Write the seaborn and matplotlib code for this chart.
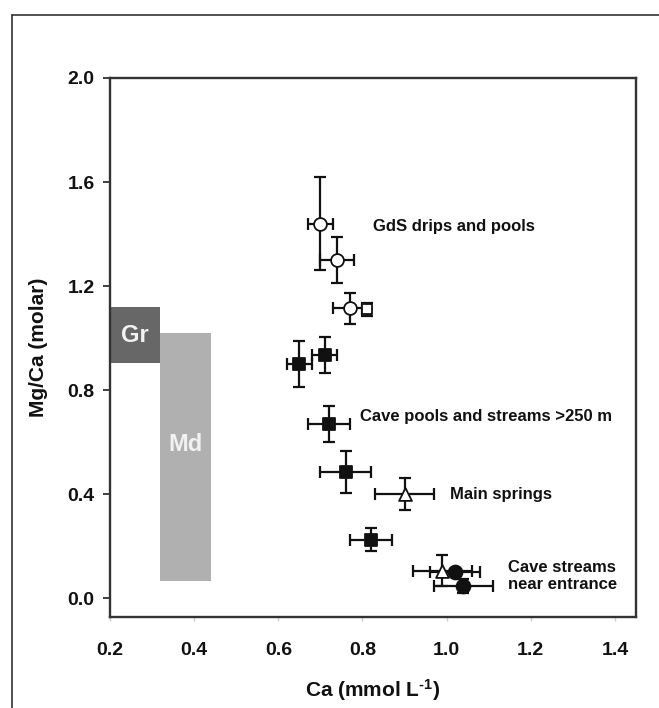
import numpy as np
import pandas as pd
import matplotlib
matplotlib.use("Agg")
import matplotlib.pyplot as plt
from matplotlib.lines import Line2D
from matplotlib.patches import Rectangle
import seaborn as sns

# ---- data ----
ca = [0.70, 0.74, 0.77, 0.81, 0.65, 0.71, 0.72, 0.76, 0.82, 0.90, 0.99, 1.02, 1.04]
mgca = [1.44, 1.30, 1.115, 1.11, 0.90, 0.935, 0.67, 0.485, 0.225, 0.40, 0.105, 0.10, 0.045]
ca_err = [0.03, 0.04, 0.04, 0.01, 0.03, 0.03, 0.05, 0.06, 0.05, 0.07, 0.07, 0.06, 0.07]
mgca_err = [0.18, 0.09, 0.06, 0.025, 0.09, 0.07, 0.07, 0.08, 0.045, 0.06, 0.06, 0.01, 0.027]
group = ["drip", "drip", "drip", "pool", "cave", "cave", "cave", "cave", "cave",
         "spring", "spring", "entrance", "entrance"]

# shaded ranges
range_names = ["Gr", "Md"]
range_x0 = [0.20, 0.32]
range_x1 = [0.32, 0.44]
range_y0 = [0.905, 0.065]
range_y1 = [1.12, 1.02]
range_label_y = [1.01, 0.59]

labels = ["GdS drips and pools", "Cave pools and streams >250 m", "Main springs",
          "Cave streams\nnear entrance"]
label_x = [0.826, 0.793, 1.007, 1.145]
label_y = [1.43, 0.70, 0.40, 0.085]

xticks = [0.2, 0.4, 0.6, 0.8, 1.0, 1.2, 1.4]
yticks = [0.0, 0.4, 0.8, 1.2, 1.6, 2.0]

df = pd.DataFrame({"Ca": ca, "MgCa": mgca, "xerr": ca_err, "yerr": mgca_err, "group": group})

sns.set_theme(style="white")
plt.rcParams["font.family"] = ["Liberation Sans", "DejaVu Sans"]
plt.rcParams["font.weight"] = "bold"
plt.rcParams["mathtext.fontset"] = "custom"
plt.rcParams["mathtext.rm"] = "Liberation Sans:bold"
plt.rcParams["mathtext.bf"] = "Liberation Sans:bold"
plt.rcParams["mathtext.default"] = "rm"

fig = plt.figure(figsize=(6.59, 7.08), dpi=100)
ax = fig.add_axes([110 / 659, 1 - 617 / 708, (636 - 110) / 659, (617 - 78) / 708])

dark = "#111111"
range_colors = ["#676767", "#b0b0b0"]
for n, x0, x1, y0, y1, c, ly in zip(range_names, range_x0, range_x1, range_y0, range_y1,
                                    range_colors, range_label_y):
    ax.add_patch(Rectangle((x0, y0), x1 - x0, y1 - y0, facecolor=c, edgecolor="none", zorder=1))
    ax.text((x0 + x1) / 2, ly, n, color="#f2f2f2", fontsize=17, fontweight="bold",
            ha="center", va="center", zorder=2)

ax.errorbar(df["Ca"], df["MgCa"], xerr=df["xerr"], yerr=df["yerr"], fmt="none",
            ecolor=dark, elinewidth=1.6, capsize=4.5, capthick=1.6, zorder=3)

markers = {"drip": "o", "pool": "s", "cave": "s", "spring": "^", "entrance": "o"}
faces = {"drip": "white", "pool": "white", "cave": dark, "spring": "white", "entrance": dark}
sizes = {"drip": 85, "pool": 55, "cave": 85, "spring": 85, "entrance": 100}
for g in ["drip", "pool", "cave", "spring", "entrance"]:
    sub = df[df["group"] == g]
    sns.scatterplot(data=sub, x="Ca", y="MgCa", marker=markers[g], color=faces[g],
                    edgecolor=dark, linewidth=1.3, s=sizes[g], ax=ax, zorder=4, legend=False)

for t, x, y in zip(labels, label_x, label_y):
    ax.text(x, y, t, fontsize=12, fontweight="bold", color=dark, ha="left", va="center",
            linespacing=1.15)

ax.set_xlim(0.2, 1.45)
ax.set_ylim(-0.073, 2.0)
ax.set_xticks(xticks)
ax.set_yticks(yticks)
ax.set_xticklabels([f"{v:.1f}" for v in xticks], fontsize=14, fontweight="bold", color=dark)
ax.set_yticklabels([f"{v:.1f}" for v in yticks], fontsize=14, fontweight="bold", color=dark)
ax.tick_params(axis="y", direction="out", length=5, width=1.3, color="#333333", left=True, pad=6)
ax.tick_params(axis="x", direction="out", length=3, width=1.0, color="#cccccc", bottom=True, pad=15)
ax.set_xlabel("Ca (mmol L$^{\\text{-1}}$)", fontsize=15, fontweight="bold", color=dark, labelpad=13)
ax.set_ylabel("Mg/Ca (molar)", fontsize=15, fontweight="bold", color=dark, labelpad=14)
for s in ax.spines.values():
    s.set_color("#333333")
    s.set_linewidth(1.7)
    s.set_visible(True)

fx = 12 / 659
fy = 1 - 15 / 708
fig.add_artist(Line2D([fx, fx], [0, fy], transform=fig.transFigure, color="#333333", lw=1.2))
fig.add_artist(Line2D([fx, 1], [fy, fy], transform=fig.transFigure, color="#333333", lw=1.2))

fig.savefig("out.png", dpi=100, facecolor="white")
